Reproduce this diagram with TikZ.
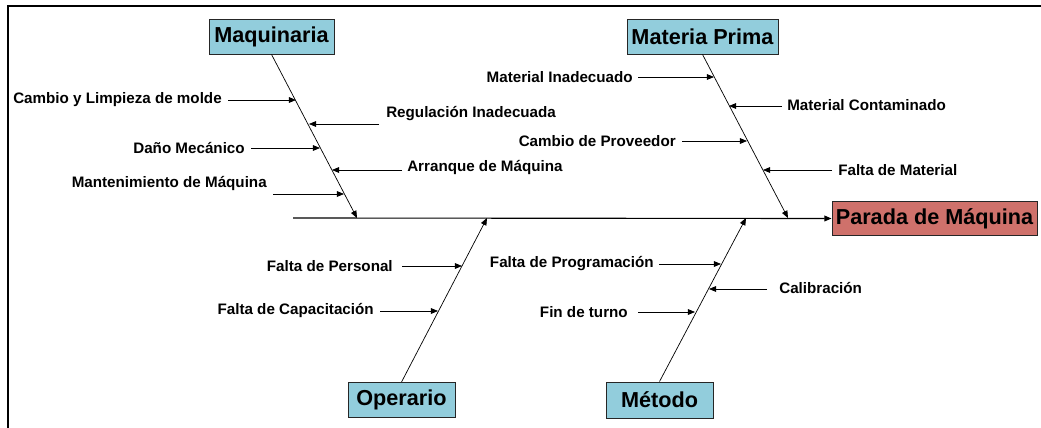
\documentclass[tikz,border=0pt]{standalone}
\usepackage{fontspec}
\setmainfont{Liberation Sans}
\usetikzlibrary{arrows.meta}
\definecolor{espina}{HTML}{92CDDC}
\definecolor{efecto}{HTML}{CF716B}
\tikzset{
	categoria/.style={draw=black!85, line width=0.6pt, fill=espina, font=\fontsize{15.4}{17}\selectfont\bfseries, minimum height=0.875cm, inner sep=0pt},
	causa/.style={font=\fontsize{10.8}{12}\selectfont\bfseries, inner sep=0pt},
	flecha/.style={-{Triangle[length=1.8mm,width=1.45mm]}, line width=0.5pt},
}

\begin{document}
\begin{tikzpicture}[x=0.025cm, y=-0.025cm]
		%%%%% START %%%%%
		\useasboundingbox (0,0) rectangle (1041,428);
		\draw[line width=1.2pt] (8,428) -- (8,6) -- (1041,6);
		
		% cajas
		\node[categoria, minimum width=3.125cm] (maq) at (271.5,36.5) {Maquinaria};
		\node[categoria, minimum width=3.775cm] (mp) at (702.5,36.5) {Materia Prima};
		\node[categoria, minimum width=2.675cm] (op) at (401.5,400) {Operario};
		\node[categoria, minimum width=2.675cm, minimum height=0.9cm] (met) at (659.5,400) {Método};
		\node[categoria, fill=efecto, minimum width=5.125cm, minimum height=0.85cm] (par) at (934.5,218.5) {Parada de Máquina};
		
		% espina central
		\coordinate (cola) at (293,218);
		\coordinate (pmaq) at (357,218);
		\coordinate (pmp) at (788,218);
		\coordinate (pop) at (487,218);
		\coordinate (pmet) at (746,218);
		\draw[flecha, line width=0.8pt] (cola) -- (par.west);
		\draw[flecha] (maq.south) -- (pmaq);
		\draw[flecha] (mp.south) -- (pmp);
		\draw[flecha] (op.north) -- (pop);
		\draw[flecha] (met.north) -- (pmet);
		
		% Maquinaria
		\node[causa, anchor=east] (c1) at (222,100) {Cambio y Limpieza de molde};
		\node[causa, anchor=west] (c2) at (386,114) {Regulación Inadecuada};
		\node[causa, anchor=east] (c3) at (245,148) {Daño Mecánico};
		\node[causa, anchor=west] (c4) at (407,168) {Arranque de Máquina};
		\node[causa, anchor=east] (c5) at (267,184) {Mantenimiento de Máquina};
		\coordinate (e1) at (296,100);
		\coordinate (e2) at (309,124);
		\coordinate (e3) at (320,148);
		\coordinate (e4) at (332,170);
		\coordinate (e5) at (344,194);
		\draw[flecha] ([shift={(6,0)}]c1.east) -- (e1);
		\draw[flecha] ([shift={(-7,10)}]c2.west) -- (e2);
		\draw[flecha] ([shift={(6,0)}]c3.east) -- (e3);
		\draw[flecha] ([shift={(-5,2)}]c4.west) -- (e4);
		\draw[flecha] ([shift={(6,10)}]c5.east) -- (e5);
		
		% Materia Prima
		\node[causa, anchor=east] (c6) at (633,77) {Material Inadecuado};
		\node[causa, anchor=west] (c7) at (787,105) {Material Contaminado};
		\node[causa, anchor=east] (c8) at (676,141) {Cambio de Proveedor};
		\node[causa, anchor=west] (c9) at (838,170) {Falta de Material};
		\coordinate (e6) at (714,77);
		\coordinate (e7) at (729,106);
		\coordinate (e8) at (747,141);
		\coordinate (e9) at (763,170);
		\draw[flecha] ([shift={(5,0)}]c6.east) -- (e6);
		\draw[flecha] ([shift={(-5,1)}]c7.west) -- (e7);
		\draw[flecha] ([shift={(6,0)}]c8.east) -- (e8);
		\draw[flecha] ([shift={(-6,0)}]c9.west) -- (e9);
		
		% Operario
		\node[causa, anchor=east] (c10) at (393,266) {Falta de Personal};
		\node[causa, anchor=east] (c11) at (374,311) {Falta de Capacitación};
		\coordinate (e10) at (462,266);
		\coordinate (e11) at (438,311);
		\draw[flecha] ([shift={(9,0)}]c10.east) -- (e10);
		\draw[flecha] ([shift={(6,0)}]c11.east) -- (e11);
		
		% Método
		\node[causa, anchor=east] (c12) at (654,264) {Falta de Programación};
		\node[causa, anchor=west] (c13) at (779,288) {Calibración};
		\node[causa, anchor=east] (c14) at (628,312) {Fin de turno};
		\coordinate (e12) at (721,264);
		\coordinate (e13) at (709,289);
		\coordinate (e14) at (695,312);
		\draw[flecha] ([shift={(5,0)}]c12.east) -- (e12);
		\draw[flecha] ([shift={(-12,1)}]c13.west) -- (e13);
		\draw[flecha] ([shift={(10,0)}]c14.east) -- (e14);
		
		%%%%% END %%%%%
	\end{tikzpicture}
\end{document}
